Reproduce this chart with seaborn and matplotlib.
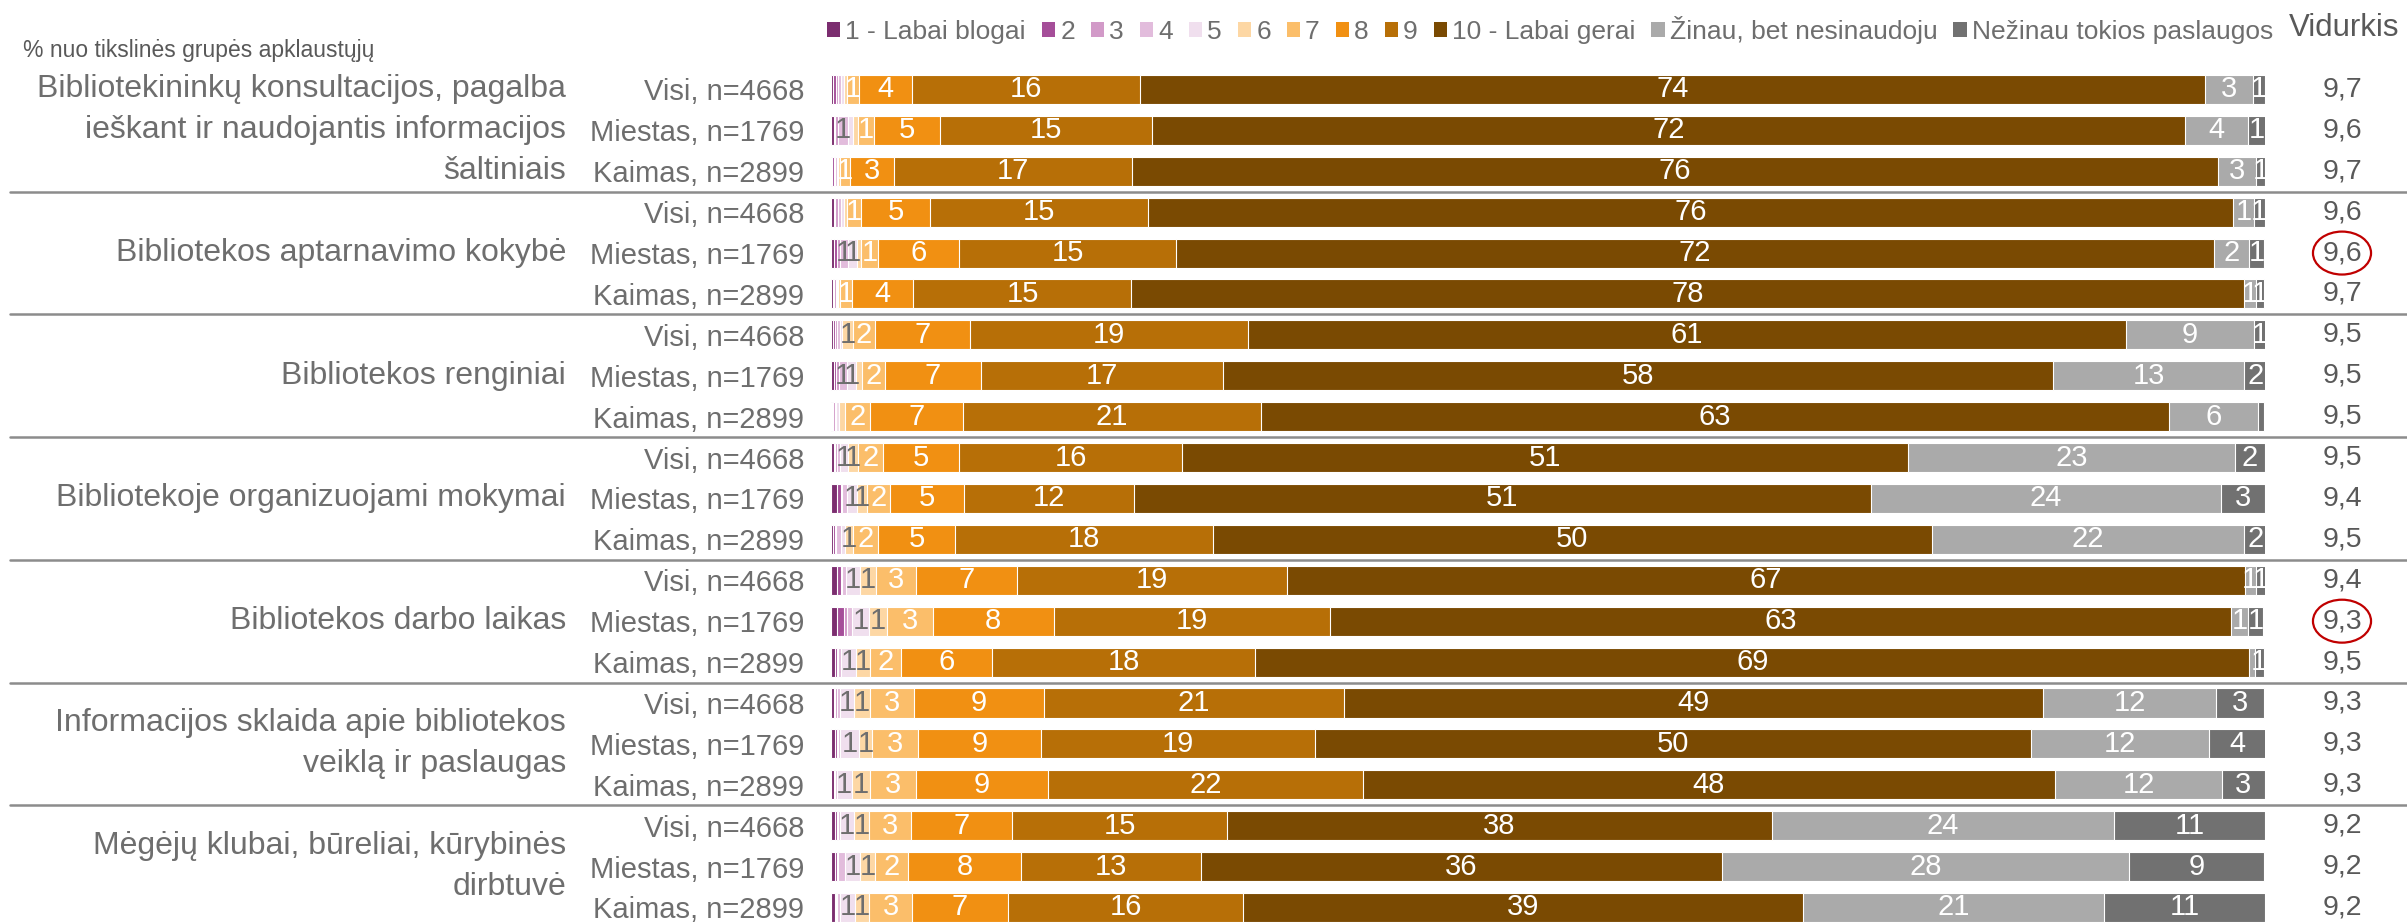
"""Stacked bar chart: library service ratings by settlement type."""

import matplotlib

matplotlib.use("Agg")

import matplotlib.pyplot as plt
import matplotlib.transforms as mtransforms
import numpy as np
import pandas as pd
import seaborn as sns
from matplotlib.patches import Ellipse, Patch

GROUP_LABELS = [
    "Bibliotekininkų konsultacijos, pagalba\nieškant ir naudojantis informacijos\nšaltiniais",
    "Bibliotekos aptarnavimo kokybė",
    "Bibliotekos renginiai",
    "Bibliotekoje organizuojami mokymai",
    "Bibliotekos darbo laikas",
    "Informacijos sklaida apie bibliotekos\nveiklą ir paslaugas",
    "Mėgėjų klubai, būreliai, kūrybinės\ndirbtuvė",
]
SUBGROUPS = ["Visi, n=4668", "Miestas, n=1769", "Kaimas, n=2899"]

CATEGORIES = [
    "1 - Labai blogai", "2", "3", "4", "5", "6", "7", "8", "9",
    "10 - Labai gerai", "Žinau, bet nesinaudoju", "Nežinau tokios paslaugos",
]
COLORS = [
    "#7B2D6F", "#A54E99", "#D29AC8", "#E2BCDC", "#F0DFEE", "#FDD7A4",
    "#FBBE6A", "#F19012", "#B76F07", "#7A4A02", "#AAAAAA", "#717171",
]

# % of respondents per answer, rows top to bottom (group x Visi/Miestas/Kaimas)
score_1 = [0.12, 0.2, 0.1, 0.2, 0.2, 0.15, 0.15, 0.2, 0.1, 0.2, 0.4, 0.15, 0.4, 0.45, 0.25, 0.2, 0.25, 0.2, 0.25, 0.3, 0.25]
score_2 = [0.2, 0.1, 0.1, 0.1, 0.2, 0.09, 0.1, 0.15, 0.05, 0.1, 0.3, 0.1, 0.3, 0.48, 0.15, 0.1, 0.15, 0.05, 0.15, 0.1, 0.1]
score_3 = [0.2, 0.2, 0.1, 0.2, 0.2, 0.09, 0.15, 0.2, 0.1, 0.1, 0.1, 0.1, 0.1, 0.2, 0.1, 0.1, 0.1, 0.05, 0.1, 0.1, 0.1]
score_4 = [0.2, 0.7, 0.1, 0.2, 0.6, 0.09, 0.2, 0.6, 0.1, 0.2, 0.3, 0.35, 0.25, 0.35, 0.2, 0.2, 0.15, 0.1, 0.15, 0.45, 0.2]
score_5 = [0.2, 0.3, 0.1, 0.2, 0.6, 0.09, 0.2, 0.6, 0.2, 0.6, 0.7, 0.25, 1.0, 1.2, 1.05, 1.0, 1.3, 1.05, 0.95, 1.1, 1.0]
score_6 = [0.2, 0.4, 0.1, 0.2, 0.3, 0.09, 0.7, 0.4, 0.45, 0.7, 0.7, 0.6, 1.1, 1.2, 0.95, 1.1, 0.9, 1.25, 1.05, 1.05, 1.0]
score_7 = [0.86, 1.1, 0.7, 1.0, 1.15, 0.85, 1.6, 1.6, 1.7, 1.7, 1.6, 1.75, 2.75, 3.2, 2.2, 3.1, 3.2, 3.2, 2.9, 2.3, 3.0]
score_8 = [3.65, 4.6, 3.1, 4.8, 5.7, 4.3, 6.6, 6.7, 6.5, 5.3, 5.2, 5.35, 7.1, 8.45, 6.3, 9.05, 8.6, 9.25, 7.1, 7.85, 6.7]
score_9 = [15.9, 14.8, 16.6, 15.2, 15.1, 15.2, 19.4, 16.9, 20.8, 15.6, 11.8, 18.0, 18.8, 19.3, 18.4, 20.9, 19.1, 21.95, 14.95, 12.55, 16.4]
score_10 = [74.3, 72.0, 75.7, 75.7, 72.4, 77.6, 61.2, 57.9, 63.3, 50.6, 51.4, 50.1, 66.8, 62.8, 69.3, 48.8, 49.9, 48.25, 38.0, 36.35, 39.0]
knows_not_uses = [3.3, 4.4, 2.7, 1.4, 2.4, 0.8, 8.9, 13.3, 6.2, 22.8, 24.4, 21.8, 0.75, 1.2, 0.4, 12.0, 12.45, 11.65, 23.85, 28.4, 21.05]
not_aware = [0.9, 1.25, 0.6, 0.8, 1.1, 0.55, 0.85, 1.6, 0.4, 2.1, 3.1, 1.6, 0.7, 1.05, 0.6, 3.35, 4.0, 3.0, 10.55, 9.4, 11.2]

MEANS = [9.7, 9.6, 9.7, 9.6, 9.6, 9.7, 9.5, 9.5, 9.5, 9.5, 9.4, 9.5, 9.4, 9.3, 9.5, 9.3, 9.3, 9.3, 9.2, 9.2, 9.2]
HIGHLIGHT_ROWS = [4, 13]

TEXT_GREY = "#6E6E6E"
LIGHT_SEGMENTS = {3, 4, 5}


def build_frame() -> pd.DataFrame:
    """Long table of segment start/end per row and category."""
    values = np.array([
        score_1, score_2, score_3, score_4, score_5, score_6, score_7,
        score_8, score_9, score_10, knows_not_uses, not_aware,
    ]).T
    ends = values.cumsum(axis=1)
    rows = []
    for r in range(values.shape[0]):
        for k, cat in enumerate(CATEGORIES):
            rows.append({
                "row": f"r{r}",
                "row_idx": r,
                "cat_idx": k,
                "category": cat,
                "value": values[r, k],
                "end": ends[r, k],
                "start": ends[r, k] - values[r, k],
            })
    return pd.DataFrame(rows)


def main() -> None:
    sns.set_style("white")
    plt.rcParams["font.family"] = ["Liberation Sans", "DejaVu Sans"]

    df = build_frame()
    n_rows = len(MEANS)
    row_order = [f"r{r}" for r in range(n_rows)]

    fig = plt.figure(figsize=(24.07, 9.22), dpi=100)
    ax = fig.add_axes([831 / 2407, 0, 1434 / 2407, 1 - 69 / 922])

    # overlay cumulative bars from the last category to the first
    for k in reversed(range(len(CATEGORIES))):
        sub = df[df["cat_idx"] == k]
        sns.barplot(
            data=sub, x="end", y="row", order=row_order, orient="h",
            color=COLORS[k], width=0.71, edgecolor="white", linewidth=0.8,
            saturation=1, ax=ax,
        )

    for _, seg in df.iterrows():
        label = int(seg["value"] + 0.5)
        if label < 1:
            continue
        ax.text(
            (seg["start"] + seg["end"]) / 2, seg["row_idx"], str(label),
            ha="center", va="center", fontsize=21,
            color=TEXT_GREY if seg["cat_idx"] in LIGHT_SEGMENTS else "white",
        )

    ax.set_xlim(0, 100)
    ax.set_ylim(20 + 14.5 / 40.9, -0.5)
    ax.set_xlabel("")
    ax.set_ylabel("")
    ax.set_xticks([])
    ax.set_yticks(range(n_rows))
    ax.set_yticklabels(SUBGROUPS * len(GROUP_LABELS), fontsize=21, color=TEXT_GREY)
    ax.tick_params(axis="y", length=0, pad=19.4)
    sns.despine(ax=ax, left=True, bottom=True)

    blend = mtransforms.blended_transform_factory(ax.transAxes, ax.transData)

    for g, label in enumerate(GROUP_LABELS):
        lines = label.split("\n")
        first = 3 * g + 1 - (len(lines) - 1) / 2
        for i, line in enumerate(lines):
            ax.text(-0.1848, first + i, line, transform=blend, ha="right",
                    va="center", fontsize=23, color=TEXT_GREY)
        if g > 0:
            ax.plot([-0.5725, 1.1], [3 * g - 0.5] * 2, transform=blend,
                    color="#8C8C8C", linewidth=1.8, clip_on=False)

    for r, mean in enumerate(MEANS):
        ax.text(1.0537, r, f"{mean:.1f}".replace(".", ","), transform=blend,
                ha="center", va="center", fontsize=20.5, color="#595959")
    for r in HIGHLIGHT_ROWS:
        ax.add_patch(Ellipse((1.0537, r), 0.0405, 1.05, transform=blend,
                             fill=False, edgecolor="#C00000", linewidth=1.6,
                             clip_on=False))

    fig.text(2344 / 2407, 1 - 28 / 922, "Vidurkis", ha="center", va="center",
             fontsize=22.5, color="#595959")
    fig.text(23 / 2407, 1 - 51 / 922, "% nuo tikslinės grupės apklaustųjų",
             ha="left", va="center", fontsize=16.5, color="#595959")

    handles = [Patch(facecolor=c, edgecolor="none") for c in COLORS]
    fig.legend(
        handles, CATEGORIES, loc="center left",
        bbox_to_anchor=(827 / 2407, 1 - 30 / 922), ncol=len(CATEGORIES),
        frameon=False, fontsize=19, handlelength=0.5, handleheight=0.5,
        handletextpad=0.2, columnspacing=0.6, borderpad=0, borderaxespad=0,
        labelcolor=TEXT_GREY,
    )

    fig.savefig("out.png", dpi=100)
    plt.close(fig)


if __name__ == "__main__":
    main()
